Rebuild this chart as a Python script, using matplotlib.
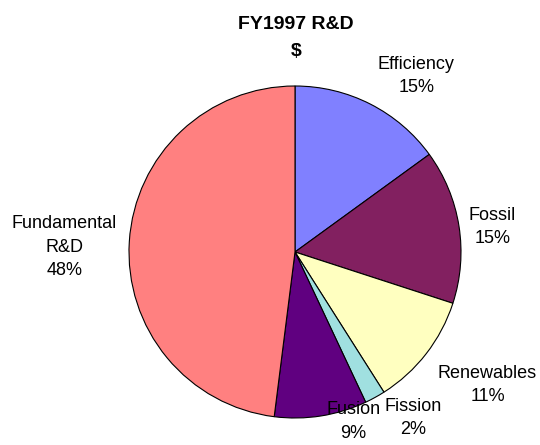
import numpy as np
import matplotlib.pyplot as plt

plt.rcParams['font.family'] = ['Liberation Sans', 'DejaVu Sans']

labels = ['Efficiency', 'Fossil', 'Renewables', 'Fission', 'Fusion', 'Fundamental\nR&D']
shares = [15, 15, 11, 2, 9, 48]
colors = ['#8080FF', '#822060', '#FFFFC0', '#A0E0E0', '#600080', '#FF8080']

# label placement (data units, pie radius = 1)
label_xy = [(0.73, 1.06), (1.19, 0.15), (1.16, -0.80), (0.71, -1.00), (0.35, -1.02), (-1.39, 0.03)]

cx, cy, r = 295, 252, 166
W, H = 540, 445

fig = plt.figure(figsize=(W / 100, H / 100), dpi=100)
ax = fig.add_axes([0, 0, 1, 1])
ax.pie(shares, colors=colors, startangle=90, counterclock=False,
       wedgeprops=dict(edgecolor='black', linewidth=0.8))
ax.set_xlim(-cx / r, (W - cx) / r)
ax.set_ylim(-(H - cy) / r, cy / r)
ax.set_aspect('equal')
ax.axis('off')

for lab, val, (x, y) in zip(labels, shares, label_xy):
    ax.text(x, y, f'{lab}\n{val}%', ha='center', va='center',
            fontsize=13, linespacing=1.5)

fig.text(296 / W, 1 - 38 / H, 'FY1997 R&D\n$', ha='center', va='center',
         fontsize=14, fontweight='bold', linespacing=1.7)

fig.savefig('out.png', dpi=100)
